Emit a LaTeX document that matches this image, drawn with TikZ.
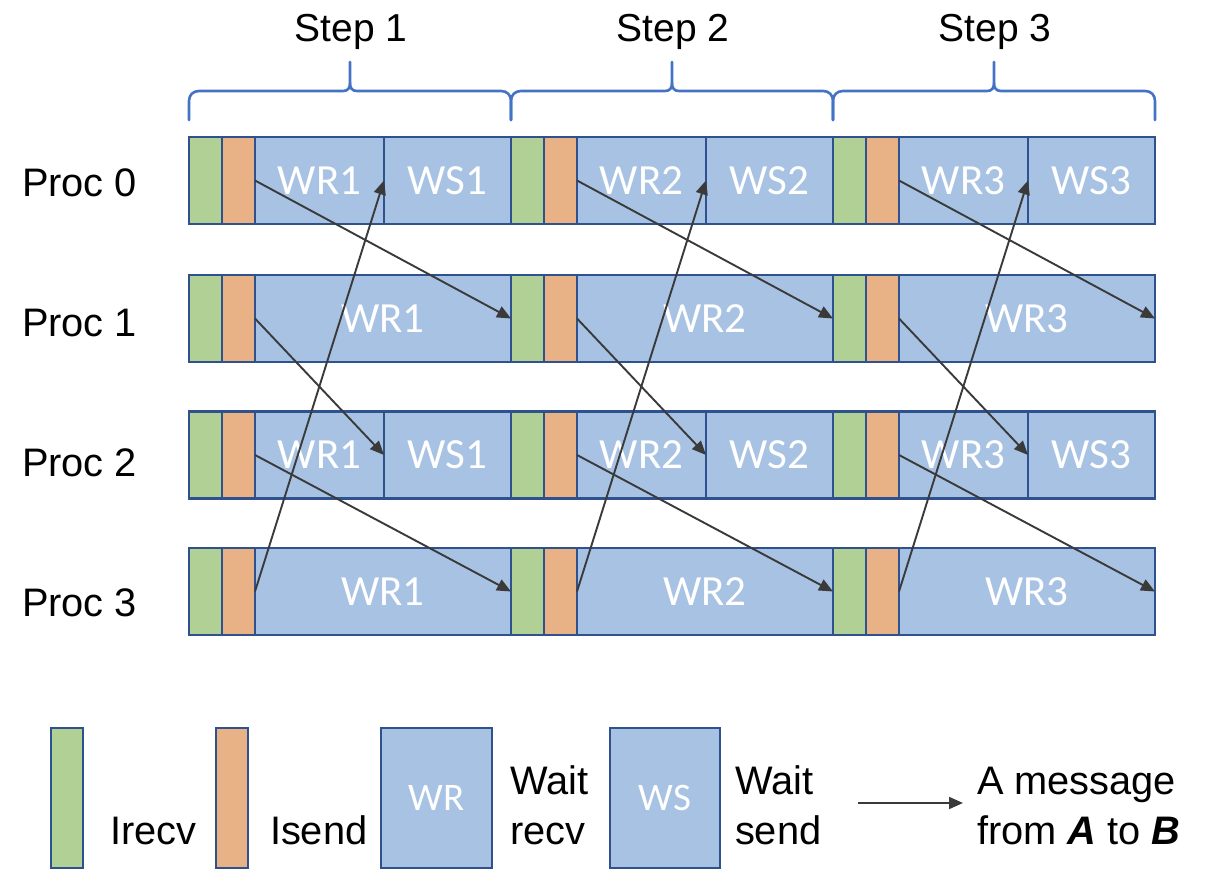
\documentclass[tikz,border=0pt]{standalone}
\usepackage{fontspec}
\setmainfont{Liberation Sans}
\newfontfamily\boxfont{Carlito}
\usetikzlibrary{arrows.meta}
\definecolor{wrblue}{HTML}{A7C2E3}
\definecolor{irgreen}{HTML}{B0D095}
\definecolor{isorange}{HTML}{E9B186}
\definecolor{edgeblue}{HTML}{2F528F}
\definecolor{bracecol}{HTML}{4472C4}
\definecolor{msgcol}{HTML}{3A3A3A}
\begin{document}
\begin{tikzpicture}[x=0.5pt,y=-0.5pt,
  seg/.style={draw=edgeblue, line width=1.1pt, inner sep=0pt, outer sep=0pt, minimum height=43.5pt},
  irecv/.style={seg, fill=irgreen, minimum width=16.5pt},
  isend/.style={seg, fill=isorange, minimum width=16.5pt},
  waitbox/.style={seg, fill=wrblue, text=white, font=\boxfont\fontsize{21.5}{24}\selectfont},
  wrhalf/.style={waitbox, minimum width=64.5pt},
  wshalf/.style={waitbox, minimum width=63.5pt},
  wrfull/.style={waitbox, minimum width=128pt},
  lbl/.style={inner sep=0pt, outer sep=0pt, font=\fontsize{19.9}{24}\selectfont},
  steplbl/.style={lbl, anchor=base, font=\fontsize{19.5}{24}\selectfont},
  msg/.style={draw=msgcol, line width=0.95pt, -{Triangle[length=7pt,width=6pt]}},
  brace/.style={draw=bracecol, line width=1.3pt, line cap=round, line join=round},
  legbox/.style={seg, minimum height=70pt},
]
\useasboundingbox (0,0) rectangle (1210,870);

% process timelines, one block per step
\foreach \k/\s in {1/189,2/511,3/833} {
  \foreach \r/\cy in {0/180.5,1/318.5,2/455,3/591.5} {
    \node[irecv] (ir\r\k) at (\s+16.5,\cy) {};
    \node[isend] (is\r\k) at (\s+49.5,\cy) {};
  }
  \node[wrhalf] (wr0\k) at (\s+130.5,180.5) {WR\k};
  \node[wshalf] (ws0\k) at (\s+258.5,180.5) {WS\k};
  \node[wrfull] (wr1\k) at (\s+194,318.5) {WR\k};
  \node[wrhalf] (wr2\k) at (\s+130.5,455) {WR\k};
  \node[wshalf] (ws2\k) at (\s+258.5,455) {WS\k};
  \node[wrfull] (wr3\k) at (\s+194,591.5) {WR\k};
}

% braces over the steps
\foreach \s/\m/\e in {189/350/511, 511/672/833, 833/994/1155} {
  \draw[brace] (\s,120) -- (\s,101) .. controls (\s,95) and (\s+4,91) .. (\s+10,91)
    -- (\m-7,91) .. controls (\m-2,91) and (\m,88) .. (\m,83) -- (\m,62);
  \draw[brace] (\m,83) .. controls (\m,88) and (\m+2,91) .. (\m+7,91)
    -- (\e-10,91) .. controls (\e-4,91) and (\e,95) .. (\e,101) -- (\e,120);
}
\node[steplbl] (st1) at (351,42) {Step 1};
\node[steplbl] (st2) at (673,42) {Step 2};
\node[steplbl] (st3) at (995,42) {Step 3};

% process names
\node[lbl, anchor=base west] (p0) at (22,197) {Proc 0};
\node[lbl, anchor=base west] (p1) at (22,337) {Proc 1};
\node[lbl, anchor=base west] (p2) at (22,477) {Proc 2};
\node[lbl, anchor=base west] (p3) at (22,617) {Proc 3};

% messages, step 1
\draw[msg] (is01.east) -- (ir12.west);
\draw[msg] (is11.east) -- (ws21.west);
\draw[msg] (is21.east) -- (ir32.west);
\draw[msg] (is31.east) -- (ws01.west);
% messages, step 2
\draw[msg] (is02.east) -- (ir13.west);
\draw[msg] (is12.east) -- (ws22.west);
\draw[msg] (is22.east) -- (ir33.west);
\draw[msg] (is32.east) -- (ws02.west);
% messages, step 3
\draw[msg] (is03.east) -- (wr13.east);
\draw[msg] (is13.east) -- (ws23.west);
\draw[msg] (is23.east) -- (wr33.east);
\draw[msg] (is33.east) -- (ws03.west);

% legend
\node[legbox, fill=irgreen, minimum width=16pt] (lg) at (67,798) {};
\node[lbl, anchor=base west] (lgt) at (110,844) {Irecv};
\node[legbox, fill=isorange, minimum width=16pt] (lo) at (232,798) {};
\node[lbl, anchor=base west] (lot) at (270,844) {Isend};
\node[legbox, fill=wrblue, minimum width=55.5pt, text=white,
      font=\boxfont\fontsize{19.5}{24}\selectfont] (lwr) at (436.5,798) {WR};
\node[lbl, anchor=base west] (lwr1) at (510,795) {Wait};
\node[lbl, anchor=base west] (lwr2) at (510,844) {recv};
\node[legbox, fill=wrblue, minimum width=55pt, text=white,
      font=\boxfont\fontsize{19.5}{24}\selectfont] (lws) at (665,798) {WS};
\node[lbl, anchor=base west] (lws1) at (735,795) {Wait};
\node[lbl, anchor=base west] (lws2) at (735,844) {send};
\coordinate (la) at (858,803);
\coordinate (lb) at (963,803);
\draw[msg] (la) -- (lb);
\node[lbl, anchor=base west] (lm1) at (977,795) {A message};
\node[lbl, anchor=base west] (lm2) at (977,844) {from \textbf{\textit{A}} to \textbf{\textit{B}}};
\end{tikzpicture}
\end{document}
